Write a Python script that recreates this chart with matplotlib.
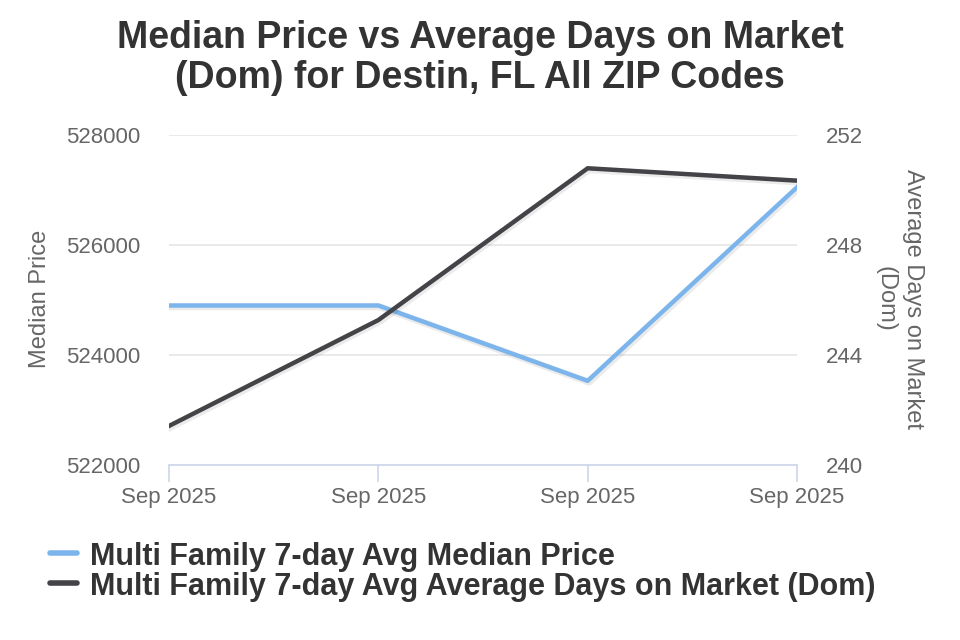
import matplotlib
matplotlib.use("Agg")
import matplotlib.pyplot as plt
import matplotlib.patheffects as pe
from matplotlib.lines import Line2D

categories = ["Sep 2025", "Sep 2025", "Sep 2025", "Sep 2025"]
median_price = [524900, 524900, 523530, 527050]
avg_dom = [241.42, 245.27, 250.79, 250.34]
left_ticks = [522000, 524000, 526000, 528000]
right_ticks = [240, 244, 248, 252]

title = "Median Price vs Average Days on Market\n(Dom) for Destin, FL All ZIP Codes"
label_price = "Multi Family 7-day Avg Median Price"
label_dom = "Multi Family 7-day Avg Average Days on Market (Dom)"

plt.rcParams['font.family'] = ['Liberation Sans', 'DejaVu Sans']

BLUE = "#7cb5ec"
DARK = "#434348"
GRID = "#e6e6e6"
TXT = "#666666"
W, H = 960, 640

fig = plt.figure(figsize=(9.6, 6.4), dpi=100)
ax = fig.add_axes([169/W, 1-465/H, (797-169)/W, 330/H])
ax2 = ax.twinx()

x = list(range(len(categories)))
shadow = [pe.SimpleLineShadow(offset=(1, -1), alpha=0.08, shadow_color='black', linewidth=5), pe.Normal()]

ax.plot(x, median_price, color=BLUE, lw=3.2, solid_joinstyle='round', zorder=3, path_effects=shadow)
ax2.plot(x, avg_dom, color=DARK, lw=3.2, solid_joinstyle='round', zorder=3, path_effects=shadow)

ax.set_xlim(0, len(categories)-1)
ax.set_ylim(left_ticks[0], left_ticks[-1])
ax2.set_ylim(right_ticks[0], right_ticks[-1])
ax.set_yticks(left_ticks)
ax.set_yticklabels([str(v) for v in left_ticks])
ax2.set_yticks(right_ticks)
ax2.set_yticklabels([str(v) for v in right_ticks])
ax.set_xticks(x)
ax.set_xticklabels(categories)

ax.grid(axis='y', color=GRID, lw=1.2)
ax.set_axisbelow(True)
for a in (ax, ax2):
    for s in ('top', 'left', 'right', 'bottom'):
        a.spines[s].set_visible(False)
ax.spines['bottom'].set_visible(True)
ax.spines['bottom'].set_color("#ccd6eb")
ax.spines['bottom'].set_linewidth(1.2)

ax.tick_params(axis='x', colors="#ccd6eb", length=12, width=1.2, direction='out', pad=3.5,
               labelcolor=TXT, labelsize=16)
ax.tick_params(axis='y', length=0, pad=21, labelcolor=TXT, labelsize=16)
ax2.tick_params(axis='y', length=0, pad=21, labelcolor=TXT, labelsize=16)

fig.text(40/W, 1-299/H, "Median Price", color=TXT, fontsize=17, rotation=90,
         ha='center', va='center')
fig.text(899/W, 1-299/H, "Average Days on Market\n(Dom)", color=TXT, fontsize=17,
         rotation=-90, ha='center', va='center', linespacing=1.3, multialignment='center')

fig.text(0.5, 1-58/H, title, ha='center', va='center', fontsize=27, fontweight='bold',
         color="#333333", linespacing=1.15)

for yc, col, lab in [(553, BLUE, label_price), (583, DARK, label_dom)]:
    fig.add_artist(Line2D([50/W, 77/W], [1-yc/H, 1-yc/H], color=col, lw=4,
                          solid_capstyle='round', transform=fig.transFigure))
    fig.text(90/W, 1-yc/H, lab, ha='left', va='center_baseline', fontsize=22,
             fontweight='bold', color="#333333")

fig.savefig("out.png", dpi=100)
